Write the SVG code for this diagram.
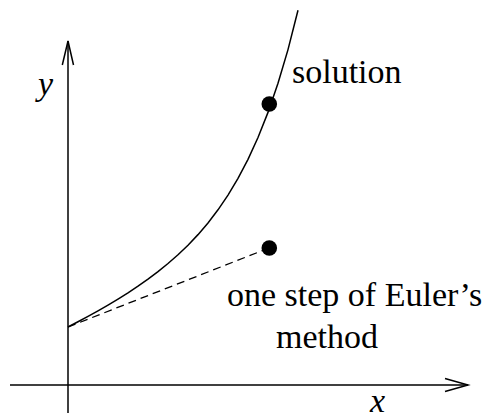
<svg xmlns="http://www.w3.org/2000/svg" width="487" height="413" viewBox="0 0 487 413">
<style>
.ax{stroke:#000;stroke-width:1.5;fill:none}
.crv{stroke:#000;stroke-width:1.5;fill:none}
.dash{stroke:#000;stroke-width:1.3;fill:none;stroke-dasharray:8 5}
.lbl{font-size:34px;fill:#000}
.it{font-style:italic}
</style>
<rect width="487" height="413" fill="#fff"/>
<g id="connectors">
<line class="ax" x1="68" y1="413" x2="68" y2="41"/>
<polyline class="ax" points="62.3,65 68,41 73.5,65"/>
<line class="ax" x1="10" y1="385" x2="468" y2="385"/>
<polyline class="ax" points="445,378.5 468,385 445,391.5"/>
<polyline id="solution-curve" class="crv" points="68,327 78,321.76 88,316.37 98,310.82 108,305.07 118,299.07 128,292.79 138,286.17 148,279.15 158,271.64 168,263.55 178,254.78 188,245.2 198,234.63 208,222.92 218,209.82 228,195.07 238,178.37 248,159.34 258,137.5 268,112.4 278,83.3 288,49.6 298,10.2"/>
<line id="euler-step" class="dash" x1="68" y1="327" x2="269" y2="248"/>
</g>
<g font-family="'Liberation Serif', 'DejaVu Serif', serif">
<g id="solution-point">
<circle cx="269.3" cy="104" r="7.8" fill="#000"/>
<text class="lbl" x="292" y="83">solution</text>
</g>
<g id="euler-point">
<circle cx="269.3" cy="248" r="7.8" fill="#000"/>
<text class="lbl" x="227" y="306">one step of Euler’s</text>
<text class="lbl" x="276" y="348">method</text>
</g>
<g id="axis-labels">
<text class="lbl it" x="38" y="95">y</text>
<text class="lbl it" x="370" y="412">x</text>
</g>
</g>
</svg>
